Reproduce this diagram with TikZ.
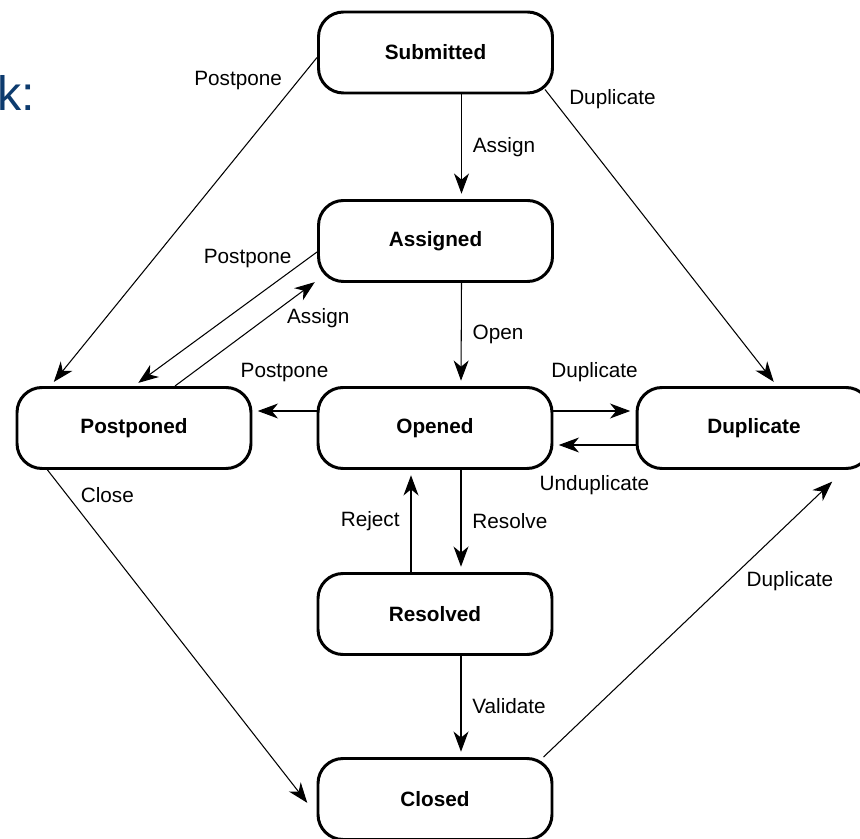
\documentclass[tikz,border=0pt]{standalone}
\usepackage{fontspec}
\setmainfont{Liberation Sans}
\usepackage{tikz}
\usetikzlibrary{positioning, arrows.meta, calc}
\definecolor{slideBlue}{HTML}{0D3B6E}

\tikzset{
	stateBox/.style={draw, rectangle, rounded corners=0.5cm, line width=1.7pt, minimum width=4.68cm,
		minimum height=1.62cm, text centered, font=\fontsize{11.8}{14}\selectfont\bfseries},
	link/.style={-{Stealth[length=11.5pt, width=8.5pt, inset=3.5pt]}, line width=0.6pt, shorten >=3pt},
	linkLabel/.style={font=\fontsize{11.8}{14}\selectfont}
}

\begin{document}
\begin{tikzpicture}
		
		\useasboundingbox (0,0) rectangle (17.2,-16.78);
		
		%Text left over from the slide
		\node (slideText) at (-0.06,-2.22) [anchor=base west, inner sep=0pt, text=slideBlue,
		font=\fontsize{27.5}{30}\selectfont]{k:};
		
		%Nodes of the states
		\node (submittedState) at (8.71,-1.05) [stateBox]{Submitted};
		
		\node (assignedState) at (8.71,-4.82) [stateBox]{Assigned};
		
		\node (postponedState) at (2.68,-8.56) [stateBox]{Postponed};
		
		\node (openedState) at (8.70,-8.56) [stateBox]{Opened};
		
		\node (duplicateState) at (15.08,-8.56) [stateBox]{Duplicate};
		
		\node (resolvedState) at (8.70,-12.28) [stateBox]{Resolved};
		
		\node (closedState) at (8.70,-15.98) [stateBox]{Closed};
		
		
		%Links along the middle column
		\draw[link] ([xshift=0.52cm]submittedState.south) -- ([xshift=0.52cm]assignedState.north)
		node[linkLabel, midway, right=1mm]{Assign};
		
		\draw[link] ([xshift=0.52cm]assignedState.south) -- ([xshift=0.52cm]openedState.north)
		node[linkLabel, midway, right=1mm]{Open};
		
		\draw[link] ([xshift=0.52cm]openedState.south) -- ([xshift=0.52cm]resolvedState.north)
		node[linkLabel, midway, right=1mm]{Resolve};
		
		\draw[link] ([xshift=-0.48cm]resolvedState.north) -- ([xshift=-0.48cm]openedState.south)
		node[linkLabel, midway, left=1mm]{Reject};
		
		\draw[link] ([xshift=0.52cm]resolvedState.south) -- ([xshift=0.52cm]closedState.north)
		node[linkLabel, midway, right=1mm]{Validate};
		
		
		%Links to the sides of Opened
		\draw[link] ([yshift=0.34cm]openedState.west) -- ([yshift=0.34cm]postponedState.east)
		node[linkLabel, midway, above=4.6mm]{Postpone};
		
		\draw[link] ([yshift=0.34cm]openedState.east) -- ([yshift=0.34cm]duplicateState.west)
		node[linkLabel, midway, above=4.6mm]{Duplicate};
		
		\draw[link] ([yshift=-0.34cm]duplicateState.west) -- ([yshift=-0.34cm]openedState.east)
		node[linkLabel, midway, below=4.8mm]{Unduplicate};
		
		
		%Links towards Postponed
		\draw[link] ([yshift=-0.1cm]submittedState.west) -- ([xshift=0.7cm]postponedState.north west)
		node[linkLabel, pos=0.07, left=2mm]{Postpone};
		
		\draw[link] ([yshift=-0.22cm]assignedState.west) -- (postponedState.north)
		node[linkLabel, pos=0.05, left=2mm]{Postpone};
		
		\draw[link] ([xshift=0.82cm]postponedState.north) -- ([shift={(0.04cm,0.08cm)}]assignedState.south west)
		node[linkLabel, pos=0.63, right=3mm]{Assign};
		
		
		%Links towards Duplicate and Closed
		\draw[link] ([shift={(-0.18cm,0.1cm)}]submittedState.south east) -- ([xshift=0.46cm]duplicateState.north)
		node[linkLabel, pos=0.034, right=2mm]{Duplicate};
		
		\draw[link] ([xshift=0.64cm]postponedState.south west) -- ([shift={(-0.12cm,-0.16cm)}]closedState.west)
		node[linkLabel, pos=0.074, right=1.5mm]{Close};
		
		\draw[link] ([xshift=-0.2cm]closedState.north east) -- ([shift={(1.64cm,-0.16cm)}]duplicateState.south)
		node[linkLabel, pos=0.63, right=2.5mm]{Duplicate};
		
		
\end{tikzpicture}
\end{document}
